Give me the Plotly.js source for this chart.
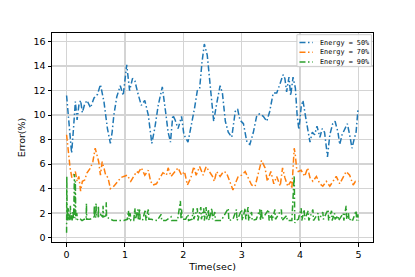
<!DOCTYPE html>
<html>
<head>
<meta charset="utf-8">
<script src="https://cdn.plot.ly/plotly-3.0.1.min.js"></script>
<style>html,body{margin:0;padding:0;background:#fff;}#chart{width:415px;height:277px;}</style>
</head>
<body>
<div id="chart"></div>
<script>
// ---- data ----
var seriesNames = ['Energy = 50%', 'Energy = 70%', 'Energy = 90%'];
var xTicks = [0, 1, 2, 3, 4, 5];
var yTicks = [0, 2, 4, 6, 8, 10, 12, 14, 16];

var blueT = [0, 0.02, 0.05, 0.086, 0.12, 0.15, 0.18, 0.21, 0.24, 0.27,
  0.31, 0.35, 0.41, 0.47, 0.53, 0.58, 0.64, 0.70, 0.75, 0.78,
  0.81, 0.86, 0.92, 0.97, 1.03, 1.08, 1.13, 1.17, 1.22, 1.28,
  1.34, 1.40, 1.46, 1.51, 1.57, 1.64, 1.69, 1.74, 1.78, 1.82,
  1.86, 1.91, 1.97, 2.01, 2.08, 2.14, 2.19, 2.24, 2.28, 2.32,
  2.36, 2.41, 2.47, 2.52, 2.57, 2.63, 2.67, 2.72, 2.77, 2.83,
  2.89, 2.93, 2.97, 3.03, 3.09, 3.14, 3.20, 3.26, 3.31, 3.37,
  3.43, 3.48, 3.54, 3.60, 3.66, 3.71, 3.74, 3.77, 3.81, 3.84,
  3.88, 3.92, 3.95, 3.98, 4.02, 4.05, 4.09, 4.14, 4.17, 4.21,
  4.25, 4.29, 4.34, 4.38, 4.42, 4.47, 4.51, 4.56, 4.60, 4.65,
  4.68, 4.72, 4.77, 4.81, 4.85, 4.89, 4.93, 4.96, 4.99, 5.0];
var blueV = [11.6, 10.5, 8.5, 6.9, 9.0, 11.1, 9.6, 10.8, 11.2, 10.2,
  10.9, 11.2, 10.6, 11.4, 11.7, 12.5, 11.1, 8.9, 7.7, 8.6,
  10.0, 11.5, 12.4, 11.6, 14.1, 12.0, 13.0, 12.8, 11.8, 10.8,
  11.2, 10.0, 7.7, 8.9, 10.8, 12.3, 10.5, 8.6, 7.8, 10.0,
  9.6, 8.9, 9.9, 8.4, 7.8, 9.2, 10.5, 12.0, 12.2, 14.3,
  15.8, 14.9, 11.7, 9.5, 10.9, 12.4, 11.8, 9.5, 8.6, 8.2,
  10.3, 10.5, 9.6, 9.3, 7.8, 7.6, 8.6, 10.0, 10.1, 9.9,
  9.5, 10.3, 11.8, 11.8, 12.6, 13.3, 13.0, 11.9, 13.1, 11.6,
  13.1, 12.2, 10.0, 8.8, 10.7, 11.2, 10.0, 8.8, 7.8, 8.6,
  8.4, 9.1, 8.2, 8.9, 8.6, 6.6, 8.4, 9.3, 9.5, 8.6,
  7.6, 8.4, 8.9, 9.3, 8.4, 7.3, 8.1, 8.6, 10.3, 10.6];

var orangeT = [0, 0.02, 0.06, 0.09, 0.13, 0.15, 0.18, 0.21, 0.24, 0.27,
  0.31, 0.35, 0.41, 0.45, 0.49, 0.51, 0.55, 0.58, 0.61, 0.64,
  0.67, 0.71, 0.75, 0.81, 0.87, 0.93, 0.98, 1.04, 1.10, 1.15,
  1.20, 1.23, 1.28, 1.34, 1.40, 1.44, 1.48, 1.54, 1.60, 1.65,
  1.71, 1.74, 1.79, 1.85, 1.91, 1.97, 2.02, 2.07, 2.13, 2.18,
  2.22, 2.28, 2.34, 2.39, 2.45, 2.50, 2.53, 2.57, 2.63, 2.69,
  2.74, 2.80, 2.85, 2.89, 2.94, 3.00, 3.06, 3.11, 3.17, 3.23,
  3.28, 3.34, 3.40, 3.44, 3.50, 3.55, 3.60, 3.66, 3.70, 3.74,
  3.79, 3.84, 3.86, 3.90, 3.92, 3.94, 3.97, 4.02, 4.08, 4.13,
  4.17, 4.22, 4.28, 4.34, 4.39, 4.45, 4.51, 4.56, 4.62, 4.68,
  4.74, 4.79, 4.85, 4.91, 4.95, 5.0];
var orangeV = [8.4, 7.3, 5.7, 4.9, 5.3, 5.4, 4.6, 5.0, 3.8, 4.6,
  4.7, 5.3, 5.7, 6.2, 7.3, 6.9, 6.2, 5.1, 6.2, 5.7,
  5.1, 4.9, 4.0, 4.2, 4.6, 4.9, 5.0, 5.1, 4.6, 5.0,
  5.4, 5.3, 5.7, 5.1, 5.5, 4.6, 4.3, 4.4, 4.9, 5.3,
  5.1, 5.7, 5.0, 5.4, 5.7, 5.1, 5.4, 4.3, 4.9, 5.8,
  5.1, 5.8, 5.1, 5.8, 5.4, 5.0, 4.6, 5.4, 5.0, 5.4,
  5.3, 4.6, 3.9, 4.4, 5.0, 5.1, 5.4, 4.9, 4.3, 4.2,
  5.1, 6.3, 5.7, 4.6, 5.4, 4.4, 5.0, 4.2, 5.7, 4.9,
  4.2, 4.6, 4.0, 7.3, 6.7, 5.7, 5.4, 5.5, 5.0, 5.7,
  4.9, 4.6, 5.0, 4.4, 4.2, 4.6, 4.2, 4.6, 5.0, 4.4,
  4.9, 5.4, 5.1, 4.3, 4.6, 4.6];

var greenT = [0.000, 0.004, 0.010, 0.016, 0.022, 0.030, 0.036, 0.045, 0.055, 0.065,
  0.072, 0.085, 0.095, 0.110, 0.120, 0.135, 0.142, 0.150, 0.158, 0.175,
  0.185, 0.215, 0.240, 0.265, 0.300, 0.335, 0.340, 0.345, 0.400, 0.440,
  0.470, 0.475, 0.480, 0.500, 0.505, 0.510, 0.540, 0.545, 0.550, 0.580,
  0.600, 0.620, 0.625, 0.630, 0.675, 0.680, 0.685, 0.720, 0.760, 0.800,
  0.900, 0.980, 1.040, 1.060, 1.070, 1.090, 1.100, 1.150, 1.170, 1.180,
  1.220, 1.230, 1.250, 1.260, 1.300, 1.350, 1.360, 1.400, 1.410, 1.450,
  1.550, 1.620, 1.630, 1.700, 1.790, 1.800, 1.900, 1.950, 1.960, 1.970,
  1.980, 2.040, 2.080, 2.090, 2.150, 2.170, 2.180, 2.240, 2.250, 2.300,
  2.310, 2.350, 2.360, 2.390, 2.400, 2.430, 2.440, 2.490, 2.500, 2.540,
  2.550, 2.650, 2.770, 2.780, 2.850, 2.910, 2.920, 3.000, 3.010, 3.060,
  3.070, 3.110, 3.120, 3.170, 3.180, 3.250, 3.310, 3.320, 3.340, 3.350,
  3.460, 3.470, 3.510, 3.520, 3.570, 3.580, 3.680, 3.690, 3.770, 3.780,
  3.860, 3.900, 3.910, 3.930, 3.970, 4.020, 4.030, 4.070, 4.080, 4.140,
  4.150, 4.220, 4.230, 4.310, 4.320, 4.390, 4.400, 4.480, 4.490, 4.540,
  4.550, 4.590, 4.600, 4.650, 4.660, 4.740, 4.750, 4.790, 4.800, 4.830,
  4.840, 4.880, 4.900, 4.960, 4.970, 4.990, 5.000];
var greenV = [0.4, 5.0, 1.6, 2.2, 1.4, 2.4, 1.5, 1.9, 1.4, 2.6,
  1.5, 1.9, 1.4, 2.2, 1.5, 5.2, 1.6, 4.6, 1.5, 2.0,
  1.5, 1.4, 1.5, 1.4, 1.5, 1.5, 2.8, 1.5, 1.5, 1.6,
  1.7, 2.6, 1.6, 1.7, 2.8, 1.7, 1.7, 2.6, 1.7, 1.9,
  1.8, 1.7, 2.6, 1.7, 1.8, 2.9, 1.7, 1.6, 1.5, 1.4,
  1.4, 1.4, 1.5, 2.2, 1.5, 2.0, 1.4, 1.4, 2.4, 1.5,
  2.3, 1.4, 2.4, 1.5, 1.4, 2.3, 1.4, 2.3, 1.5, 1.5,
  1.4, 1.9, 1.4, 1.4, 1.7, 1.4, 1.4, 3.0, 1.6, 2.3,
  1.5, 1.5, 1.9, 1.4, 1.5, 2.4, 1.5, 2.4, 1.4, 2.5,
  1.5, 2.4, 1.4, 2.5, 1.5, 2.3, 1.4, 2.4, 1.5, 2.1,
  1.4, 1.4, 2.4, 1.4, 1.5, 2.3, 1.4, 2.3, 1.4, 2.4,
  1.5, 2.5, 1.4, 2.1, 1.4, 1.5, 2.3, 1.4, 2.3, 1.5,
  2.3, 1.4, 1.9, 1.4, 2.3, 1.5, 2.3, 1.4, 1.8, 1.4,
  1.4, 5.1, 1.2, 1.4, 1.5, 2.4, 1.4, 2.3, 1.5, 2.2,
  1.4, 2.3, 1.4, 2.0, 1.4, 2.1, 1.5, 2.3, 1.4, 2.2,
  1.4, 2.0, 1.5, 1.8, 1.4, 2.0, 1.4, 2.6, 1.5, 2.0,
  1.4, 1.6, 1.4, 2.2, 1.4, 1.9, 1.4];

// ---- chart ----
var colors = ['#1f77b4', '#ff7f0e', '#2ca02c'];
var dashPattern = '6px,2.5px,1.5px,2.5px';
var xs = [blueT, orangeT, greenT];
var ys = [blueV, orangeV, greenV];
var traces = xs.map(function (x, i) {
  return {
    x: x, y: ys[i], type: 'scatter', mode: 'lines', name: seriesNames[i],
    line: {color: colors[i], width: 1.5, dash: dashPattern}
  };
});

// compact legend (matplotlib-like), built from seriesNames / colors
var legBox = {x0: 0.763, x1: 0.995, y0: 0.839, y1: 0.992};
var legRows = [0.954, 0.908, 0.861];
var shapes = [{
  type: 'rect', xref: 'paper', yref: 'paper',
  x0: legBox.x0, x1: legBox.x1, y0: legBox.y0, y1: legBox.y1,
  fillcolor: 'rgba(255,255,255,0.85)', line: {color: '#cccccc', width: 1}, layer: 'above'
}];
var annotations = [];
seriesNames.forEach(function (name, i) {
  shapes.push({
    type: 'line', xref: 'paper', yref: 'paper',
    x0: 0.771, x1: 0.812, y0: legRows[i], y1: legRows[i],
    line: {color: colors[i], width: 1.5, dash: dashPattern}, layer: 'above'
  });
  annotations.push({
    xref: 'paper', yref: 'paper', x: 0.830, y: legRows[i],
    xanchor: 'left', yanchor: 'middle', showarrow: false, text: name,
    font: {family: 'DejaVu Sans Mono', size: 6.8, color: '#000'}
  });
});

var axisCommon = {
  showgrid: true, gridcolor: '#d4d4d4', gridwidth: 1.5,
  zeroline: false, showline: true, linecolor: '#000', linewidth: 1, mirror: true,
  ticks: 'outside', ticklen: 3.5, tickwidth: 1, tickcolor: '#000',
  tickfont: {family: 'DejaVu Sans', size: 9.5, color: '#000'}
};

var layout = {
  width: 415, height: 277,
  margin: {l: 52, r: 42, t: 33, b: 35},
  paper_bgcolor: '#fff', plot_bgcolor: '#fff',
  showlegend: false,
  shapes: shapes,
  annotations: annotations,
  xaxis: Object.assign({}, axisCommon, {
    range: [-0.25, 5.25], tickvals: xTicks, ticktext: xTicks.map(String),
    title: {text: 'Time(sec)', font: {family: 'DejaVu Sans', size: 9.5, color: '#000'}, standoff: 4}
  }),
  yaxis: Object.assign({}, axisCommon, {
    range: [-0.35, 16.7], tickvals: yTicks, ticktext: yTicks.map(String),
    title: {text: 'Error(%)', font: {family: 'DejaVu Sans', size: 9.5, color: '#000'}, standoff: 6}
  })
};

Plotly.newPlot('chart', traces, layout, {displayModeBar: false, staticPlot: true});
</script>
</body>
</html>
